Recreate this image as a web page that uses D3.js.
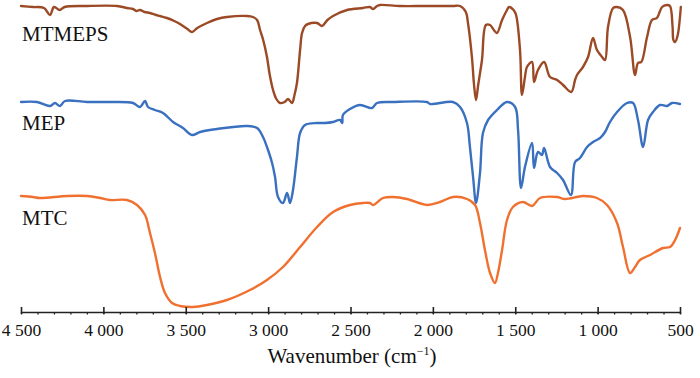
<!DOCTYPE html>
<html><head><meta charset="utf-8">
<script src="https://cdn.jsdelivr.net/npm/d3@7"></script>
<style>body{margin:0;background:#fff}svg{display:block}</style>
</head><body><svg id="c" width="700" height="378"></svg>
<script>
// Wavenumber (cm-1) vs relative transmittance (arbitrary units, stacked)
const seriesNames = ["MTMEPS","MEP","MTC"];
const seriesColors = ["#9b4a25","#3a70c0","#f07030"];
const majorTicks = [4500,4000,3500,3000,2500,2000,1500,1000,500];
const tickLabels = ["4 500","4 000","3 500","3 000","2 500","2 000","1 500","1 000","500"];
const minorTicks = d3.range(4500, 499, -100);

const mtmeps = [[4500,306],[4427,305],[4360,304],[4324,297],[4300,305],[4265,302],[4235,305],[4100,306],[3917,306],[3857,304],[3820,303],[3800,301],[3778,302],[3750,300],[3717,299],[3680,297],[3656,296],[3614,294],[3570,291],[3535,288],[3490,283],[3462,280],[3430,284],[3371,289],[3310,293],[3250,295],[3128,296],[3092,295],[3067,292],[3049,282],[3030,272],[3007,255],[2990,237],[2970,222],[2950,213],[2928,209],[2900,210],[2879,213],[2855,209],[2840,217],[2825,229],[2806,262],[2794,279],[2776,286],[2758,288],[2703,289],[2673,286],[2640,292],[2606,296],[2521,302],[2424,304],[2382,305],[2363,303],[2339,306],[2321,307],[2200,306],[2050,306],[1878,306],[1835,306],[1800,300],[1787,289],[1763,255],[1750,227],[1738,212],[1725,227],[1702,252],[1678,287],[1653,287],[1630,282],[1611,279],[1580,292],[1550,302],[1538,305],[1510,302],[1495,297],[1471,262],[1459,217],[1441,235],[1429,245],[1398,250],[1386,230],[1362,242],[1325,250],[1289,235],[1246,232],[1210,227],[1160,220],[1137,232],[1125,237],[1089,245],[1058,255],[1028,274],[1004,262],[973,255],[955,252],[937,285],[906,304],[882,305],[846,302],[803,275],[773,237],[755,249],[735,250],[700,275],[670,292],[640,294],[609,305],[580,307],[561,306],[545,285],[540,272],[530,270],[515,276],[495,305]];

const mep = [[4500,210],[4403,210],[4324,206],[4294,209],[4263,206],[4233,211],[4100,210],[3960,210],[3820,209],[3778,205],[3747,211],[3729,205],[3687,202],[3638,199],[3577,190],[3517,184],[3462,177],[3413,180],[3310,183],[3128,186],[3067,184],[3031,175],[3007,165],[2976,149],[2958,135],[2940,115],[2910,109],[2885,119],[2867,109],[2849,122],[2825,155],[2806,179],[2776,187],[2703,189],[2655,189],[2606,190],[2564,192],[2550,189],[2546,197],[2503,203],[2442,207],[2370,204],[2339,209],[2242,210],[2036,210],[2017,208],[1878,210],[1835,205],[1793,189],[1775,165],[1756,135],[1738,109],[1714,139],[1696,179],[1665,192],[1611,202],[1550,210],[1501,205],[1483,182],[1465,124],[1441,145],[1398,169],[1386,144],[1362,160],[1338,157],[1325,164],[1289,145],[1246,139],[1210,132],[1162,117],[1137,150],[1107,154],[1064,165],[1028,170],[985,174],[955,180],[925,190],[882,200],[822,209],[785,209],[755,192],[724,165],[694,192],[664,200],[621,207],[579,206],[548,209],[500,208]];

const mtc = [[4500,116],[4427,115],[4385,114],[4221,116],[4099,116],[4020,114],[3960,112],[3857,112],[3796,107],[3747,97],[3717,79],[3687,59],[3656,35],[3626,19],[3583,9],[3535,6],[3456,5],[3371,7],[3250,12],[3110,22],[3007,32],[2910,45],[2806,65],[2703,85],[2606,100],[2503,107],[2424,109],[2382,109],[2363,107],[2303,114],[2242,115],[2157,113],[2036,107],[1957,110],[1878,115],[1793,113],[1744,107],[1714,89],[1684,62],[1653,39],[1623,29],[1605,39],[1580,62],[1550,92],[1514,105],[1453,110],[1398,106],[1350,114],[1246,115],[1198,113],[1089,116],[1004,114],[943,107],[882,89],[846,65],[803,39],[773,45],[743,52],[682,57],[603,64],[561,65],[530,72],[500,84]];

const allSeries = [mtmeps, mep, mtc];
const labelPos = [[22,41],[22,130],[22,225]];
const serif = "Liberation Serif, Times New Roman, serif";

const svg = d3.select("#c");
const x = d3.scaleLinear().domain([4500,500]).range([21,680]);
const y = d3.scaleLinear().domain([0,312]).range([312,0]);

const line = d3.line().x(d=>x(d[0])).y(d=>y(d[1])).curve(d3.curveCatmullRom.alpha(0.5));

allSeries.forEach((s,i)=>{
  svg.append("path").attr("d", line(s)).attr("fill","none")
    .attr("stroke", seriesColors[i]).attr("stroke-width",2.4)
    .attr("stroke-linejoin","round").attr("stroke-linecap","round");
  svg.append("text").attr("x",labelPos[i][0]).attr("y",labelPos[i][1])
    .attr("font-family",serif)
    .attr("font-size",21).attr("fill","#111").text(seriesNames[i]);
});

// axis
const gMinor = svg.append("g").attr("transform","translate(0,312)")
  .call(d3.axisBottom(x).tickValues(minorTicks).tickSize(2.5).tickFormat(""));
gMinor.select(".domain").remove();
gMinor.selectAll("line").attr("stroke","#222").attr("stroke-width",1.3);

const gMajor = svg.append("g").attr("transform","translate(0,312)")
  .call(d3.axisBottom(x).tickValues(majorTicks).tickSizeInner(-5).tickSizeOuter(0)
    .tickPadding(12).tickFormat((d,i)=>tickLabels[i]));
gMajor.select(".domain").attr("stroke","#222").attr("stroke-width",1.6);
gMajor.selectAll(".tick line").attr("stroke","#222").attr("stroke-width",1.6).attr("y2",-5).attr("y1",2);
gMajor.selectAll("text").attr("font-family",serif)
  .attr("font-size",17.5).attr("fill","#111");

const title = svg.append("text").attr("x",352).attr("y",363).attr("text-anchor","middle")
  .attr("font-family",serif).attr("font-size",21).attr("fill","#111");
title.append("tspan").text("Wavenumber (cm");
title.append("tspan").attr("font-size",12).attr("dy",-8).text("−1");
title.append("tspan").attr("dy",8).text(")");
</script></body></html>
